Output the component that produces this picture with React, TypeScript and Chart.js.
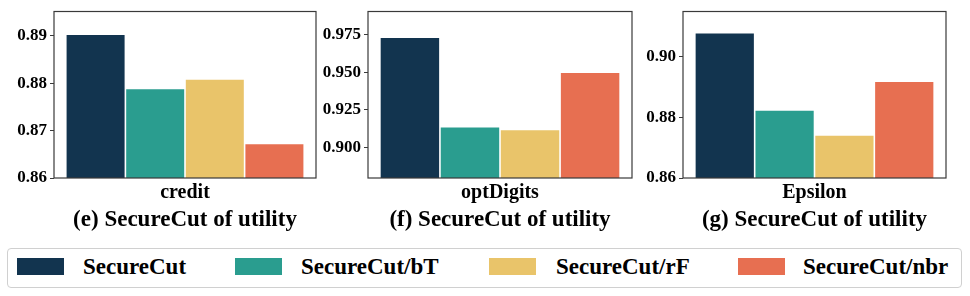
import React, { useEffect, useRef } from "react";
import { Chart, registerables } from "chart.js";

Chart.register(...registerables);

// ---- data ----
const seriesNames = ["SecureCut", "SecureCut/bT", "SecureCut/rF", "SecureCut/nbr"];
const seriesColors = ["#12344f", "#2a9d8f", "#e9c46a", "#e76f51"];

const creditValues = [0.8903, 0.8789, 0.8809, 0.8673];
const optDigitsValues = [0.9733, 0.9138, 0.9121, 0.95];
const epsilonValues = [0.908, 0.8825, 0.8742, 0.892];

const creditTicks = [0.86, 0.87, 0.88, 0.89];
const optDigitsTicks = [0.9, 0.925, 0.95, 0.975];
const epsilonTicks = [0.86, 0.88, 0.9];

const categories = ["credit", "optDigits", "Epsilon"];
const captions = [
  "(e) SecureCut of utility",
  "(f) SecureCut of utility",
  "(g) SecureCut of utility",
];

const FONT = "'Liberation Serif', 'Times New Roman', serif";

const framePlugin = {
  id: "frame",
  afterDatasetsDraw(chart: any) {
    const { ctx, chartArea: a } = chart;
    ctx.save();
    ctx.strokeStyle = "#3a3a3a";
    ctx.lineWidth = 1.2;
    ctx.strokeRect(a.left, a.top, a.right - a.left, a.bottom - a.top);
    ctx.restore();
  },
};

type PanelProps = {
  left: number;
  width: number;
  yAxisWidth: number;
  padRight: number;
  category: string;
  values: number[];
  ticks: number[];
  min: number;
  max: number;
  decimals: number;
  caption: string;
};

const HEIGHT = 240;

function Panel(p: PanelProps) {
  const ref = useRef<HTMLCanvasElement | null>(null);
  useEffect(() => {
    if (!ref.current) return;
    const chart = new Chart(ref.current, {
      type: "bar",
      data: {
        labels: [p.category],
        datasets: seriesNames.map((name, i) => ({
          label: name,
          data: [p.values[i]],
          backgroundColor: seriesColors[i],
          borderColor: "rgba(255,255,255,0.55)",
          borderWidth: 0.8,
          categoryPercentage: 0.91,
          barPercentage: 1,
        })),
      },
      options: {
        animation: false,
        responsive: false,
        devicePixelRatio: 1,
        layout: { padding: { top: 7, right: p.padRight, left: 0, bottom: 0 } },
        plugins: { legend: { display: false }, tooltip: { enabled: false }, title: { display: false } },
        scales: {
          x: {
            grid: { display: false, drawTicks: false },
            border: { display: false },
            ticks: {
              color: "#000",
              padding: 5,
              font: { family: FONT, size: 20, weight: "bold", lineHeight: 1 },
            },
            title: {
              display: true,
              text: p.caption,
              color: "#000",
              font: { family: FONT, size: 23, weight: "bold", lineHeight: 1 },
              padding: { top: 0, bottom: 8 },
            },
            afterFit: (scale: any) => {
              scale.height = 62;
            },
          },
          y: {
            min: p.min,
            max: p.max,
            grid: {
              display: true,
              drawOnChartArea: false,
              drawTicks: true,
              tickLength: 4,
              color: "#3a3a3a",
              lineWidth: 1,
            },
            border: { display: false },
            ticks: {
              color: "#000",
              padding: 3,
              font: { family: FONT, size: 17, weight: "bold", lineHeight: 1 },
              callback: (v: any) => Number(v).toFixed(p.decimals),
            },
            afterBuildTicks: (scale: any) => {
              scale.ticks = p.ticks.map((v) => ({ value: v }));
            },
            afterFit: (scale: any) => {
              scale.width = p.yAxisWidth;
            },
          },
        },
      } as any,
      plugins: [framePlugin],
    });
    return () => chart.destroy();
  }, []);
  return (
    <canvas
      ref={ref}
      width={p.width}
      height={HEIGHT}
      style={{ position: "absolute", left: p.left, top: 0, width: p.width, height: HEIGHT }}
    />
  );
}

const panels: PanelProps[] = [
  {
    left: 0, width: 320, yAxisWidth: 54, padRight: 4,
    category: categories[0], values: creditValues, ticks: creditTicks,
    min: 0.86, max: 0.8951, decimals: 2, caption: captions[0],
  },
  {
    left: 320, width: 320, yAxisWidth: 48, padRight: 8,
    category: categories[1], values: optDigitsValues, ticks: optDigitsTicks,
    min: 0.8798, max: 0.9903, decimals: 3, caption: captions[1],
  },
  {
    left: 640, width: 330, yAxisWidth: 43, padRight: 24,
    category: categories[2], values: epsilonValues, ticks: epsilonTicks,
    min: 0.86, max: 0.915, decimals: 2, caption: captions[2],
  },
];

const legendSwatchX = [17, 235, 489, 738];
const legendTextX = [83, 301, 556, 803];

export default function App() {
  return (
    <div style={{ position: "absolute", left: 0, top: 0, width: 970, height: 296, background: "#fff", overflow: "hidden" }}>
      {panels.map((p, i) => (
        <Panel key={i} {...p} />
      ))}
      <div
        style={{
          position: "absolute",
          left: 7,
          top: 248,
          width: 955,
          height: 40,
          boxSizing: "border-box",
          border: "1px solid #d0d0d0",
          borderRadius: 4,
        }}
      />
      {seriesNames.map((name, i) => (
        <React.Fragment key={name}>
          <div
            style={{
              position: "absolute",
              left: legendSwatchX[i],
              top: 258,
              width: 47,
              height: 16.5,
              background: seriesColors[i],
            }}
          />
          <span
            style={{
              position: "absolute",
              left: legendTextX[i],
              top: 254.7,
              fontFamily: FONT,
              fontWeight: "bold",
              fontSize: 23,
              lineHeight: "23px",
              color: "#000",
              whiteSpace: "nowrap",
            }}
          >
            {name}
          </span>
        </React.Fragment>
      ))}
    </div>
  );
}
